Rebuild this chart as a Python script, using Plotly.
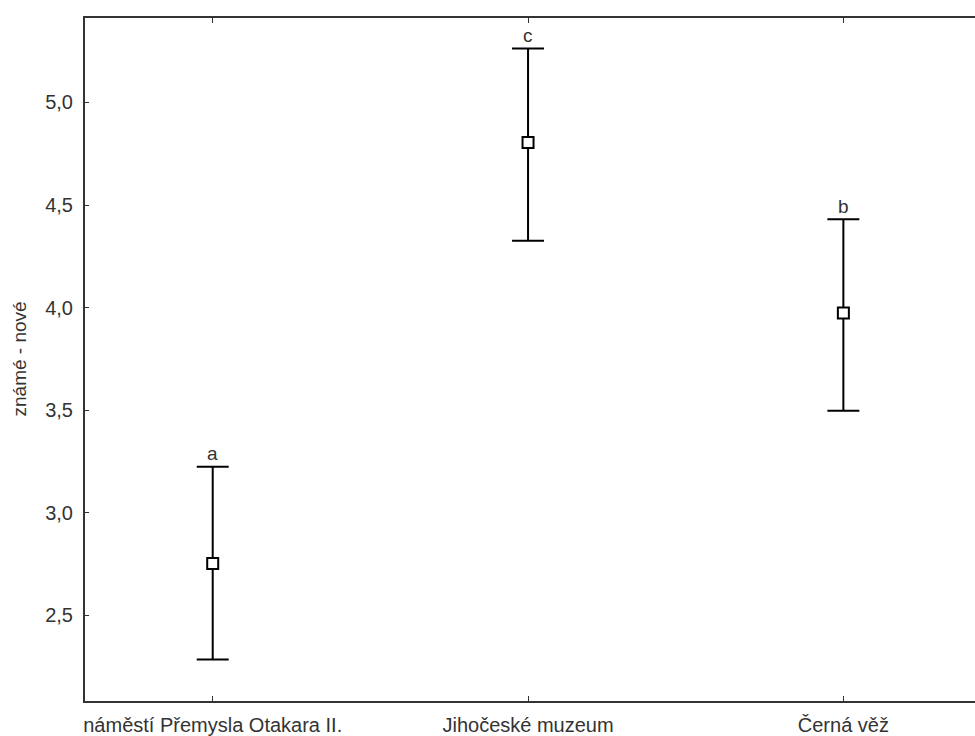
import plotly.graph_objects as go

categories = ["náměstí Přemysla Otakara II.", "Jihočeské muzeum", "Černá věž"]
means = [2.752, 4.805, 3.973]
upper = [3.223, 5.263, 4.431]
lower = [2.284, 4.326, 3.497]
letters = ["a", "c", "b"]
y_ticks = [2.5, 3.0, 3.5, 4.0, 4.5, 5.0]
y_title = "známé - nové"

x_idx = list(range(len(categories)))
err_plus = [u - m for u, m in zip(upper, means)]
err_minus = [m - l for m, l in zip(means, lower)]

FONT = "Liberation Sans, Arial"
TXT = "#333333"

fig = go.Figure()
fig.add_trace(go.Scatter(
    x=x_idx, y=means, mode="markers",
    marker=dict(symbol="square", size=11, color="white",
                line=dict(color="black", width=2)),
    error_y=dict(type="data", symmetric=False, array=err_plus, arrayminus=err_minus,
                 color="black", thickness=2, width=16),
    showlegend=False,
))

for xi, u, t in zip(x_idx, upper, letters):
    fig.add_annotation(x=xi, y=u, text=t, showarrow=False, yanchor="middle",
                       yshift=13, font=dict(family=FONT, size=19, color=TXT))

fig.add_annotation(xref="paper", yref="paper", x=0, y=0.5, xshift=-66,
                   text=y_title, textangle=-90, showarrow=False,
                   xanchor="center", yanchor="middle",
                   font=dict(family=FONT, size=19, color=TXT))

fig.update_layout(
    width=990, height=736,
    margin=dict(l=85, r=0, t=18, b=35),
    paper_bgcolor="white", plot_bgcolor="white",
    separators=", ",
    font=dict(family=FONT, size=20, color=TXT),
)
fig.update_xaxes(
    range=[-0.405, 2.465], tickmode="array", tickvals=x_idx, ticktext=categories,
    showline=True, linecolor="#333", linewidth=2, mirror="ticks",
    ticks="inside", ticklen=5, tickcolor="#333", tickwidth=1,
    showgrid=False, zeroline=False, tickfont=dict(family=FONT, size=20, color=TXT),
    ticklabelstandoff=5,
)
fig.update_yaxes(
    range=[2.081, 5.412], tickmode="array", tickvals=y_ticks, tickformat=".1f",
    showline=True, linecolor="#333", linewidth=2, mirror=False,
    ticks="inside", ticklen=4, tickcolor="#333", tickwidth=1,
    showgrid=False, zeroline=False, tickfont=dict(family=FONT, size=20, color=TXT),
    ticklabelstandoff=6,
)

fig.write_html("out.html", config={"displayModeBar": False},
               post_script="document.body.style.margin='0';document.body.style.overflow='hidden';"
                           "document.documentElement.style.overflow='hidden';")
